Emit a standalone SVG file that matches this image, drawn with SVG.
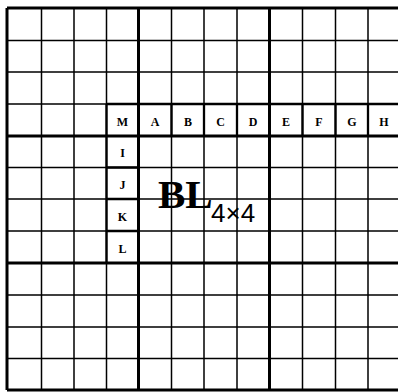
<svg xmlns="http://www.w3.org/2000/svg" width="398" height="392" viewBox="0 0 398 392">
<style>
.thin{stroke:#000;stroke-width:1.5;fill:none}
.mid{stroke:#000;stroke-width:2.3;fill:none}
.thick{stroke:#000;stroke-width:3;fill:none}
.lab{font-family:"Liberation Serif",serif;font-weight:bold;font-size:12px;text-anchor:middle;fill:#000}
</style>
<rect width="398" height="392" fill="#fff"/>
<g id="grid">
<g class="thin">
<path d="M41.5 8V390M74 8V390M106.5 8V390M171.5 8V390M204 8V390M237 8V390M302.5 8V390M335.5 8V390M368 8V390"/>
<path d="M7 40.5H398M7 72H398M7 104H398M7 167.5H398M7 199H398M7 231H398M7 295H398M7 327H398M7 358.5H398"/>
</g>
<g class="mid">
<path d="M106.5 104V263M106.5 104H398M106.5 167.5H138.5M106.5 199H138.5M106.5 231H138.5"/>
<path d="M171.5 104V136M204 104V136M237 104V136M302.5 104V136M335.5 104V136M368 104V136"/>
</g>
<g class="thick">
<path d="M7 8H398M7 8V390M7 390H398M138.5 8V390M269.5 8V390M7 136H398M7 263H398"/>
</g>
</g>
<g id="labels">
<text class="lab" x="122.5" y="125.5">M</text>
<text class="lab" x="155" y="125.5">A</text>
<text class="lab" x="188" y="125.5">B</text>
<text class="lab" x="220.5" y="125.5">C</text>
<text class="lab" x="253" y="125.5">D</text>
<text class="lab" x="286" y="125.5">E</text>
<text class="lab" x="319" y="125.5">F</text>
<text class="lab" x="352" y="125.5">G</text>
<text class="lab" x="384" y="125.5">H</text>
<text class="lab" x="122.5" y="156.5">I</text>
<text class="lab" x="122.5" y="188.5">J</text>
<text class="lab" x="122.5" y="220.5">K</text>
<text class="lab" x="122.5" y="252.5">L</text>
</g>
<g id="block">
<text x="158" y="208" font-family="Liberation Serif,serif" font-weight="bold" font-size="41">BL</text>
<text x="211" y="222" font-family="Liberation Sans,sans-serif" font-size="26">4×4</text>
</g>
</svg>
